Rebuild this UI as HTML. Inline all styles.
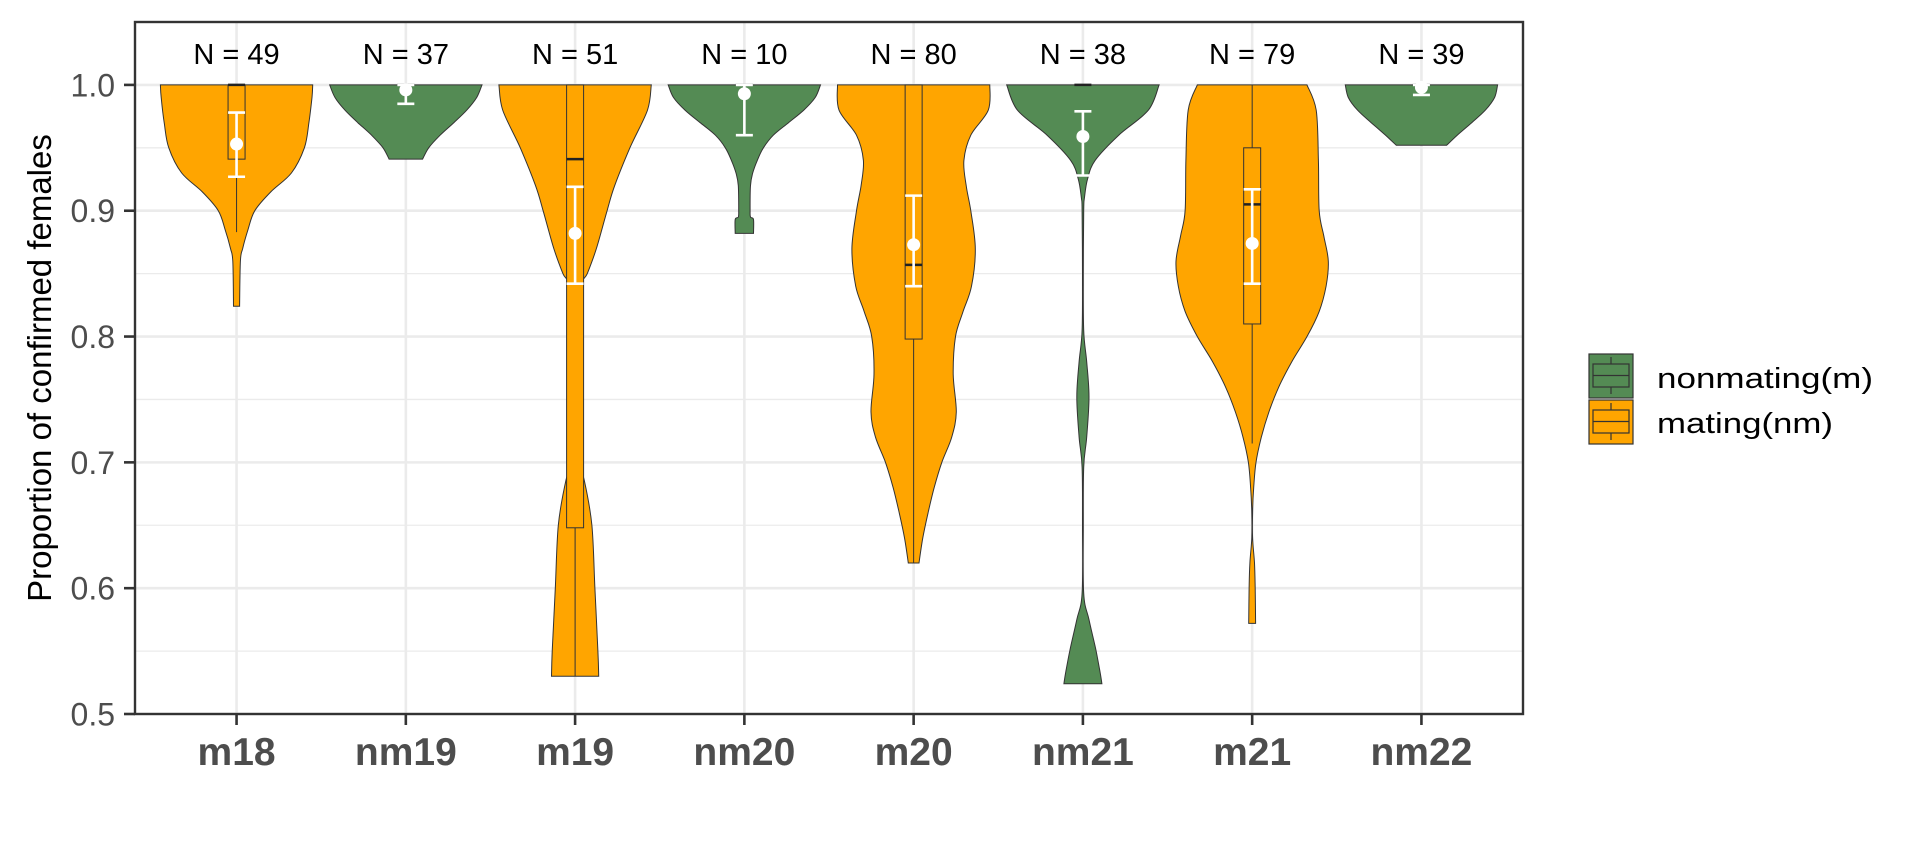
<!DOCTYPE html>
<html><head><meta charset="utf-8"><style>
html,body{margin:0;padding:0;background:#fff;}
svg{display:block;}
</style></head><body>
<svg id="chart" width="1920" height="864" viewBox="0 0 1920 864" xmlns="http://www.w3.org/2000/svg" font-family="Liberation Sans, Arial, sans-serif">
<rect x="0" y="0" width="1920" height="864" fill="#fff"/>
<g id="grid"></g>
<g id="marks"></g>
<g id="axes"></g>
<text x="0" y="0" transform="translate(51,368) rotate(-90)" text-anchor="middle" font-size="33" fill="#000">Proportion of confirmed females</text>
<g>
  <g>
    <rect x="1589" y="354" width="44" height="44" fill="#548B54" stroke="#333" stroke-width="1.2"/>
    <rect x="1593" y="364" width="36" height="23" fill="none" stroke="#333" stroke-width="1.2"/>
    <line x1="1593" y1="375.5" x2="1629" y2="375.5" stroke="#333" stroke-width="1.2"/>
    <line x1="1611" y1="357" x2="1611" y2="364" stroke="#333" stroke-width="1.2"/>
    <line x1="1611" y1="387" x2="1611" y2="394" stroke="#333" stroke-width="1.2"/>
    <text x="1657" y="388" font-size="29" fill="#000" font-family="Liberation Sans, Noto Sans CJK JP, sans-serif" textLength="216" lengthAdjust="spacingAndGlyphs">nonmating(m)</text>
  </g>
  <g>
    <rect x="1589" y="400" width="44" height="44" fill="#FFA500" stroke="#333" stroke-width="1.2"/>
    <rect x="1593" y="410" width="36" height="23" fill="none" stroke="#333" stroke-width="1.2"/>
    <line x1="1593" y1="421.5" x2="1629" y2="421.5" stroke="#333" stroke-width="1.2"/>
    <line x1="1611" y1="403" x2="1611" y2="410" stroke="#333" stroke-width="1.2"/>
    <line x1="1611" y1="433" x2="1611" y2="440" stroke="#333" stroke-width="1.2"/>
    <text x="1657" y="433" font-size="29" fill="#000" font-family="Liberation Sans, Noto Sans CJK JP, sans-serif" textLength="176" lengthAdjust="spacingAndGlyphs">mating(nm)</text>
  </g>
</g>
</svg>
<script>
const categories = ['m18','nm19','m19','nm20','m20','nm21','m21','nm22'];
const groups = ['m','n','m','n','m','n','m','n'];
const nLabels = ['N = 49','N = 37','N = 51','N = 10','N = 80','N = 38','N = 79','N = 39'];
const yTicks = [0.5,0.6,0.7,0.8,0.9,1.0];
const yTickLabels = ['0.5','0.6','0.7','0.8','0.9','1.0'];
const yMinor = [0.55,0.65,0.75,0.85,0.95,1.05];
// violin density profiles: values and relative half-widths
const violinVals = [
 [1,0.99,0.97,0.95,0.93,0.915,0.9,0.885,0.87,0.86,0.824],
 [1,0.99,0.98,0.97,0.96,0.95,0.941],
 [1,0.98,0.95,0.92,0.9,0.87,0.85,0.84,0.8,0.75,0.7,0.686,0.65,0.6,0.55,0.53],
 [1,0.99,0.98,0.97,0.96,0.95,0.94,0.93,0.92,0.9,0.895,0.893,0.882],
 [1,0.98,0.96,0.94,0.92,0.9,0.87,0.84,0.82,0.8,0.77,0.74,0.72,0.7,0.68,0.66,0.64,0.62],
 [1,0.98,0.96,0.94,0.925,0.91,0.9,0.85,0.805,0.78,0.752,0.72,0.696,0.65,0.596,0.575,0.551,0.535,0.524],
 [1,0.98,0.94,0.9,0.88,0.86,0.84,0.82,0.8,0.78,0.76,0.74,0.72,0.70,0.68,0.66,0.64,0.62,0.6,0.572],
 [1,0.99,0.98,0.97,0.96,0.952]
];
const violinWidths = [
 [1.0,0.99,0.95,0.89,0.72,0.45,0.24,0.15,0.08,0.05,0.04],
 [1,0.93,0.8,0.63,0.45,0.3,0.22],
 [1,0.95,0.72,0.52,0.42,0.28,0.16,0.08,0.02,0.01,0.04,0.12,0.22,0.26,0.3,0.31],
 [1,0.93,0.78,0.58,0.38,0.25,0.17,0.11,0.08,0.075,0.08,0.12,0.12],
 [1,0.98,0.75,0.66,0.69,0.75,0.81,0.76,0.65,0.55,0.52,0.56,0.5,0.37,0.27,0.19,0.12,0.07],
 [1,0.86,0.47,0.16,0.06,0.02,0.01,0.005,0.01,0.05,0.08,0.05,0.01,0.005,0.01,0.08,0.17,0.22,0.25],
 [0.72,0.84,0.87,0.88,0.94,1.0,0.97,0.88,0.72,0.52,0.35,0.22,0.12,0.05,0.02,0.005,0.005,0.03,0.04,0.045],
 [1,0.96,0.84,0.66,0.47,0.33]
];
const boxQ1 = [0.941,1,0.648,1,0.798,1,0.81,1];
const boxMed = [1,1,0.941,1,0.857,1,0.905,1];
const boxQ3 = [1,1,1,1,1,1,0.95,1];
const whiskLo = [0.883,1,0.53,1,0.62,1,0.715,1];
const whiskHi = [1,1,1,1,1,1,1,1];
const means = [0.953,0.996,0.882,0.993,0.873,0.959,0.874,0.998];
const errLo = [0.927,0.985,0.842,0.96,0.84,0.928,0.842,0.992];
const errHi = [0.978,1.0,0.919,1.0,0.912,0.979,0.917,1.0];

const NS='http://www.w3.org/2000/svg';
const L=135,R=1523,T=22,B=714;
const step=(R-L)/(categories.length-1+1.2);
function xPos(i){return L+0.6*step+i*step;}
function yPos(v){return B-(v-0.5)/0.55*(B-T);}
const maxHalf=0.45*step;
const fills={m:'#FFA500',n:'#548B54'};
function mk(tag,attrs,parent){const e=document.createElementNS(NS,tag);for(const k in attrs)e.setAttribute(k,attrs[k]);parent.appendChild(e);return e;}
function smooth(pts){ // catmull-rom to bezier, returns segment string starting after first point
 let s='';
 for(let k=0;k<pts.length-1;k++){
  const p0=pts[Math.max(0,k-1)],p1=pts[k],p2=pts[k+1],p3=pts[Math.min(pts.length-1,k+2)];
  const c1=[p1[0]+(p2[0]-p0[0])/6,p1[1]+(p2[1]-p0[1])/6];
  const c2=[p2[0]-(p3[0]-p1[0])/6,p2[1]-(p3[1]-p1[1])/6];
  s+='C'+c1[0].toFixed(1)+','+c1[1].toFixed(1)+' '+c2[0].toFixed(1)+','+c2[1].toFixed(1)+' '+p2[0].toFixed(1)+','+p2[1].toFixed(1);
 }
 return s;
}
const grid=document.getElementById('grid'),marks=document.getElementById('marks'),axes=document.getElementById('axes');
mk('rect',{x:L,y:T,width:R-L,height:B-T,fill:'#fff'},grid);
yMinor.forEach(v=>{const e=mk('line',{x1:L,x2:R,y1:yPos(v),y2:yPos(v),stroke:'#ebebeb','stroke-width':1.3},grid);

});
yTicks.forEach(v=>{const e=mk('line',{x1:L,x2:R,y1:yPos(v),y2:yPos(v),stroke:'#ebebeb','stroke-width':2.6},grid);

});
categories.forEach((c,i)=>{const e=mk('line',{x1:xPos(i),x2:xPos(i),y1:T,y2:B,stroke:'#ebebeb','stroke-width':2.6},grid);

});

categories.forEach((c,i)=>{
 const cx=xPos(i),vals=violinVals[i],ws=violinWidths[i];
 const right=vals.map((v,k)=>[cx+ws[k]*maxHalf,yPos(v)]);
 const left=vals.map((v,k)=>[cx-ws[k]*maxHalf,yPos(v)]).reverse();
 const d='M'+right[0][0].toFixed(1)+','+right[0][1].toFixed(1)+smooth(right)+'L'+left[0][0].toFixed(1)+','+left[0][1].toFixed(1)+smooth(left)+'Z';
 const v=mk('path',{d:d,fill:fills[groups[i]],stroke:'#333','stroke-width':1},marks);
 
 
 const bw=8.5;
 const w1=mk('line',{x1:cx,x2:cx,y1:yPos(boxQ3[i]),y2:yPos(whiskHi[i]),stroke:'#333','stroke-width':1},marks);
 
 
 const w2=mk('line',{x1:cx,x2:cx,y1:yPos(boxQ1[i]),y2:yPos(whiskLo[i]),stroke:'#333','stroke-width':1},marks);
 
 
 const b=mk('rect',{x:cx-bw,y:yPos(boxQ3[i]),width:2*bw,height:Math.max(0,yPos(boxQ1[i])-yPos(boxQ3[i])),fill:fills[groups[i]],stroke:'#333','stroke-width':1},marks);
 
 
 const md=mk('line',{x1:cx-bw,x2:cx+bw,y1:yPos(boxMed[i]),y2:yPos(boxMed[i]),stroke:'#222','stroke-width':2.5},marks);
 
 
 const eb=mk('g',{stroke:'#fff','stroke-width':2.6},marks);
 
 
 mk('line',{x1:cx,x2:cx,y1:yPos(errHi[i]),y2:yPos(errLo[i])},eb);
 mk('line',{x1:cx-8.5,x2:cx+8.5,y1:yPos(errHi[i]),y2:yPos(errHi[i])},eb);
 mk('line',{x1:cx-8.5,x2:cx+8.5,y1:yPos(errLo[i]),y2:yPos(errLo[i])},eb);
 const pt=mk('circle',{cx:cx,cy:yPos(means[i]),r:6.5,fill:'#fff'},marks);
 
 
 const nl=mk('text',{x:cx,y:64,'text-anchor':'middle','font-size':29,fill:'#000'},marks);
 nl.textContent=nLabels[i];
 
 
 const tk=mk('line',{x1:cx,x2:cx,y1:B,y2:B+11,stroke:'#333','stroke-width':2.6},axes);
 
 
 const xl=mk('text',{x:cx,y:765,'text-anchor':'middle','font-size':39,'font-weight':'bold',fill:'#4d4d4d'},axes);
 xl.textContent=c;
 
 
});
yTicks.forEach((v,k)=>{
 const tk=mk('line',{x1:L-11,x2:L,y1:yPos(v),y2:yPos(v),stroke:'#333','stroke-width':2.6},axes);
 
 
 const tl=mk('text',{x:L-20,y:yPos(v)+11.5,'text-anchor':'end','font-size':32,fill:'#4d4d4d'},axes);
 tl.textContent=yTickLabels[k];
 
 
});
const frame=mk('rect',{x:L,y:T,width:R-L,height:B-T,fill:'none',stroke:'#333','stroke-width':2.4},axes);


</script>
</body></html>
